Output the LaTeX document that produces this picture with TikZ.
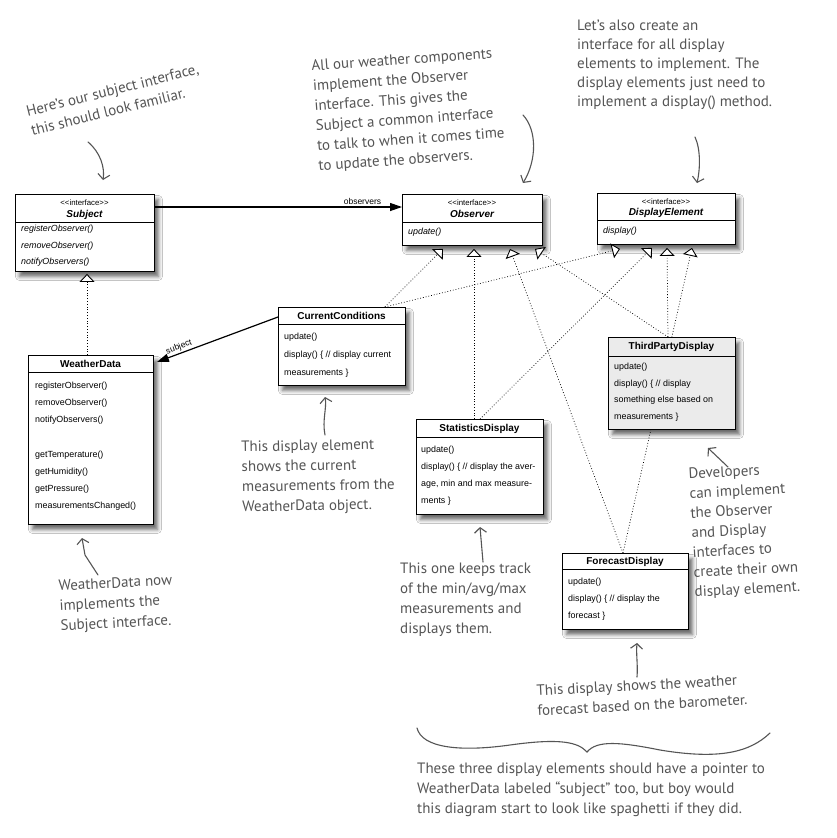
\documentclass[tikz,border=0pt]{standalone}
\usepackage{fontspec}
\setmainfont{Liberation Sans}
\newfontfamily\hand{PT Sans}
\usetikzlibrary{arrows.meta,shadows.blur,calc}
\definecolor{notegray}{HTML}{555555}
\definecolor{tpgray}{HTML}{EBEBEB}
\newcommand{\stereotxt}{<\kern0pt<interface>\kern0pt>}
\tikzset{
  umlbox/.style={draw=black, line width=0.9pt, fill=white, anchor=north west, inner sep=0pt,
    blur shadow={shadow xshift=4pt, shadow yshift=-5pt, shadow blur radius=4pt, shadow opacity=60}},
  hdr/.style={draw=black, line width=0.7pt},
  mth/.style={anchor=west, inner sep=0pt, font=\fontsize{8.9}{10}\selectfont},
  imth/.style={anchor=west, inner sep=0pt, font=\fontsize{8.9}{10}\selectfont\itshape},
  clsname/.style={anchor=center, inner sep=0pt, font=\fontsize{10}{12}\selectfont\bfseries},
  iclsname/.style={anchor=center, inner sep=0pt, font=\fontsize{10}{12}\selectfont\bfseries\itshape},
  stereo/.style={anchor=center, inner sep=0pt, font=\fontsize{7.8}{9}\selectfont},
  lbl/.style={inner sep=1.5pt, font=\fontsize{8.5}{10}\selectfont},
  impl/.style={line width=0.7pt, dash pattern=on 0.8pt off 2pt,
    -{Triangle[open, fill=white, length=8pt, width=15pt, line width=0.9pt]}},
  assoc/.style={line width=1.2pt, -{Triangle[length=12pt, width=8pt]}},
  annot/.style={anchor=north west, inner sep=0pt, align=left, text=notegray,
    font=\hand\fontsize{15}{20}\selectfont},
  notearrow/.style={draw=notegray, line width=1.1pt, line cap=round,
    -{Straight Barb[length=5pt, width=12pt, line width=1.1pt]}},
  bracestyle/.style={draw=notegray, line width=1.1pt, line cap=round},
}
\begin{document}
\begin{tikzpicture}[x=1pt, y=-1pt]
\fill[white] (0,0) rectangle (837,838);
\useasboundingbox (0,0) rectangle (837,838);

% ---------------- boxes
% Subject
\node[umlbox, minimum width=139pt, minimum height=77pt] (subject) at (15,194) {};
\draw[hdr] ([yshift=-28pt]subject.north west) -- ([yshift=-28pt]subject.north east);
\node[stereo] (subjst) at (84.5,203) {\stereotxt};
\node[iclsname] (subjname) at (84.5,214.5) {Subject};
\node[imth] (subjm1) at (21,229.5) {registerObserver()};
\node[imth] (subjm2) at (21,246) {removeObserver()};
\node[imth] (subjm3) at (21,262) {notifyObservers()};
% Observer
\node[umlbox, minimum width=140pt, minimum height=51pt] (observer) at (402,194) {};
\draw[hdr] ([yshift=-28pt]observer.north west) -- ([yshift=-28pt]observer.north east);
\node[stereo] (obsst) at (472,202.5) {\stereotxt};
\node[iclsname] (obsname) at (472,214) {Observer};
\node[imth] (obsm1) at (408,232.5) {update()};
% DisplayElement
\node[umlbox, minimum width=138pt, minimum height=51pt] (display) at (597,193) {};
\draw[hdr] ([yshift=-27pt]display.north west) -- ([yshift=-27pt]display.north east);
\node[stereo] (dispst) at (666,201.5) {\stereotxt};
\node[iclsname] (dispname) at (666,213) {DisplayElement};
\node[imth] (dispm1) at (603,231.5) {display()};
% WeatherData
\node[umlbox, minimum width=125pt, minimum height=169pt] (wd) at (28,355) {};
\draw[hdr] ([yshift=-17pt]wd.north west) -- ([yshift=-17pt]wd.north east);
\node[clsname] (wdname) at (90.5,364) {WeatherData};
\node[mth] (wdm1) at (35,386) {registerObserver()};
\node[mth] (wdm2) at (35,403) {removeObserver()};
\node[mth] (wdm3) at (35,420) {notifyObservers()};
\node[mth] (wdm4) at (35,455) {getTemperature()};
\node[mth] (wdm5) at (35,472) {getHumidity()};
\node[mth] (wdm6) at (35,489) {getPressure()};
\node[mth] (wdm7) at (35,506) {measurementsChanged()};
% CurrentConditions
\node[umlbox, minimum width=127pt, minimum height=78pt] (cc) at (278,307) {};
\draw[hdr] ([yshift=-17pt]cc.north west) -- ([yshift=-17pt]cc.north east);
\node[clsname] (ccname) at (341.5,316) {CurrentConditions};
\node[mth] (ccm1) at (284,337) {update()};
\node[mth] (ccm2) at (284,355) {display() \{ // display current};
\node[mth] (ccm3) at (284,373) {measurements \}};
% StatisticsDisplay
\node[umlbox, minimum width=127pt, minimum height=95pt] (stats) at (416,419) {};
\draw[hdr] ([yshift=-18pt]stats.north west) -- ([yshift=-18pt]stats.north east);
\node[clsname] (stname) at (479.5,429) {StatisticsDisplay};
\node[mth] (stm1) at (421,450) {update()};
\node[mth] (stm2) at (421,467) {display() \{ // display the aver-};
\node[mth] (stm3) at (421,484) {age, min and max measure-};
\node[mth] (stm4) at (421,501) {ments \}};
% ForecastDisplay
\node[umlbox, minimum width=126pt, minimum height=76pt] (forecast) at (562,553) {};
\draw[hdr] ([yshift=-16pt]forecast.north west) -- ([yshift=-16pt]forecast.north east);
\node[clsname] (fcname) at (625,562) {ForecastDisplay};
\node[mth] (fcm1) at (568,582) {update()};
\node[mth] (fcm2) at (568,599) {display() \{ // display the};
\node[mth] (fcm3) at (568,616) {forecast \}};

% ---------------- connectors
\draw[assoc] ([yshift=-13pt]subject.north east) -- ([yshift=-13pt]observer.north west)
  node[lbl, pos=0.84, above] {observers};
\draw[assoc] ([yshift=-10pt]cc.north west) -- ([xshift=3pt,yshift=-7pt]wd.north east)
  node[lbl, pos=0.8, above, sloped] {subject};
\draw[impl] ([xshift=59pt]wd.north west) -- ([xshift=72pt,yshift=-2pt]subject.south west);
% CurrentConditions
\draw[impl] ([xshift=-21pt]cc.north east) -- ([xshift=41pt,yshift=-3pt]observer.south west);
\draw[impl] ([xshift=-21pt]cc.north east) -- ([xshift=23pt,yshift=-4pt]display.south west);
% StatisticsDisplay
\draw[impl] ([xshift=58pt]stats.north west) -- ([xshift=72pt,yshift=-3pt]observer.south west);
\draw[impl] ([xshift=64pt]stats.north west) -- ([xshift=55pt,yshift=-3pt]display.south west);
% ForecastDisplay (the second line passes behind ThirdPartyDisplay)
\draw[impl] ([xshift=61pt]forecast.north west) -- ([xshift=108pt,yshift=-3pt]observer.south west);
\draw[impl] ([xshift=61pt]forecast.north west) -- ([xshift=95pt,yshift=-3pt]display.south west);

% ThirdPartyDisplay (drawn over the Forecast line)
\node[umlbox, fill=tpgray, minimum width=127pt, minimum height=92pt] (tpd) at (608,337) {};
\draw[hdr] ([yshift=-19pt]tpd.north west) -- ([yshift=-19pt]tpd.north east);
\node[clsname] (tpname) at (671.5,347) {ThirdPartyDisplay};
\node[mth] (tpm1) at (614,367) {update()};
\node[mth] (tpm2) at (614,384) {display() \{ // display};
\node[mth] (tpm3) at (614,400) {something else based on};
\node[mth] (tpm4) at (614,417) {measurements \}};
\draw[impl] ([xshift=60pt]tpd.north west) -- ([xshift=133pt,yshift=-3pt]observer.south west);
\draw[impl] ([xshift=60pt]tpd.north west) -- ([xshift=70pt,yshift=-3pt]display.south west);

% ---------------- annotations
\node[annot, rotate=14] (noteA) at (25,106) {Here’s our subject interface,\\this should look familiar.};
\coordinate (aA1) at (88,142); \coordinate (aA2) at (103,180);
\draw[notearrow] (aA1) .. controls (100,152) and (105,167) .. (aA2);

\node[annot, rotate=4] (noteB) at (311,60) {All our weather components\\implement the Observer\\interface. This gives the\\Subject a common interface\\to talk to when it comes time\\to update the observers.};
\coordinate (aB1) at (523,115); \coordinate (aB2) at (523,183);
\draw[notearrow] (aB1) .. controls (537,130) and (537,160) .. (aB2);

\node[annot, font=\hand\fontsize{15}{19}\selectfont] (noteC) at (577,20) {Let’s also create an\\interface for all display\\elements to implement. The\\display elements just need to\\implement a display() method.};
\coordinate (aC1) at (695,137); \coordinate (aC2) at (697,183);
\draw[notearrow] (aC1) .. controls (701,150) and (700,170) .. (aC2);

\node[annot, rotate=1] (noteD) at (241,441) {This display element\\shows the current\\measurements from the\\WeatherData object.};
\coordinate (aD1) at (325,435); \coordinate (aD2) at (325,397);
\draw[notearrow] (aD1) .. controls (322,420) and (327,408) .. (aD2);

\node[annot, rotate=3] (noteE) at (58,580) {WeatherData now\\implements the\\Subject interface.};
\coordinate (aE1) at (98,575); \coordinate (aE2) at (85,555); \coordinate (aE3) at (82,538);
\draw[notearrow] (aE1) -- (aE2) -- (aE3);

\node[annot] (noteF) at (400,563) {This one keeps track\\of the min/avg/max\\measurements and\\displays them.};
\coordinate (aF1) at (483,562); \coordinate (aF2) at (480,527);
\draw[notearrow] (aF1) -- (aF2);

\node[annot, rotate=3, font=\hand\fontsize{15}{19.7}\selectfont] (noteG) at (688,468) {Developers\\can implement\\the Observer\\and Display\\interfaces to\\create their own\\display element.};
\coordinate (aG1) at (728,467); \coordinate (aG2) at (708,448);
\draw[notearrow] (aG1) -- (aG2);

\node[annot, rotate=3] (noteH) at (536,685) {This display shows the weather\\forecast based on the barometer.};
\coordinate (aH1) at (637,677); \coordinate (aH2) at (637,643);
\draw[notearrow] (aH1) .. controls (638,665) and (636,655) .. (aH2);

\draw[bracestyle] (417,728) .. controls (422,748) and (460,752) .. (510,745)
  .. controls (560,738) and (578,742) .. (587,752)
  .. controls (597,740) and (620,742) .. (660,750)
  .. controls (720,760) and (750,752) .. (770,733);

\node[annot] (noteI) at (417,763) {These three display elements should have a pointer to\\WeatherData labeled “subject” too, but boy would\\this diagram start to look like spaghetti if they did.};
\end{tikzpicture}
\end{document}
